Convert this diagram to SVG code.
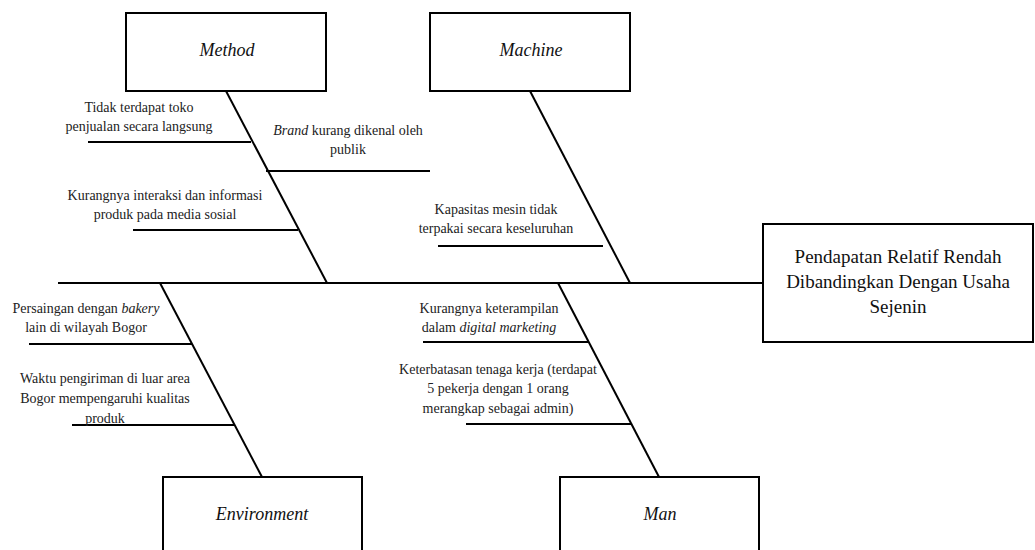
<svg xmlns="http://www.w3.org/2000/svg" width="1035" height="550" viewBox="0 0 1035 550">
<style>
.box{fill:#fff;stroke:#000;stroke-width:2}
.ln{stroke:#000;stroke-width:2;fill:none}
.t{font-family:"Liberation Serif","Times New Roman",serif;font-size:14px;fill:#222;text-anchor:middle}
.h{font-family:"Liberation Serif","Times New Roman",serif;font-size:18px;font-style:italic;fill:#111;text-anchor:middle}
.e{font-family:"Liberation Serif","Times New Roman",serif;font-size:19px;fill:#111;text-anchor:middle}
.i{font-style:italic}
</style>
<rect width="1035" height="550" fill="#fff"/>
<g id="connectors">
<line class="ln" x1="58" y1="283" x2="763" y2="283"/>
<line class="ln" x1="226" y1="91" x2="327" y2="283"/>
<line class="ln" x1="530" y1="91" x2="630" y2="283"/>
<line class="ln" x1="160" y1="283" x2="262" y2="477"/>
<line class="ln" x1="558" y1="283" x2="659" y2="477"/>
<line class="ln" x1="88" y1="142" x2="251" y2="142"/>
<line class="ln" x1="266" y1="171" x2="430" y2="171"/>
<line class="ln" x1="133" y1="230" x2="298" y2="230"/>
<line class="ln" x1="438" y1="246" x2="603" y2="246"/>
<line class="ln" x1="29" y1="344" x2="192" y2="344"/>
<line class="ln" x1="72" y1="425" x2="234" y2="425"/>
<line class="ln" x1="423" y1="342" x2="588" y2="342"/>
<line class="ln" x1="466" y1="424" x2="631" y2="424"/>
</g>
<g id="method">
<rect class="box" x="126" y="13" width="200" height="78"/>
<text class="h" x="227" y="56">Method</text>
</g>
<g id="machine">
<rect class="box" x="430" y="13" width="200" height="78"/>
<text class="h" x="531" y="56">Machine</text>
</g>
<g id="environment">
<rect class="box" x="163" y="477" width="199" height="80"/>
<text class="h" x="262" y="520">Environment</text>
</g>
<g id="man">
<rect class="box" x="560" y="477" width="199" height="80"/>
<text class="h" x="660" y="520">Man</text>
</g>
<g id="effect">
<rect class="box" x="763" y="224" width="270" height="118"/>
<text class="e" x="898" y="263">Pendapatan Relatif Rendah</text>
<text class="e" x="898" y="288">Dibandingkan Dengan Usaha</text>
<text class="e" x="898" y="313">Sejenin</text>
</g>
<g id="cause-toko">
<text class="t" x="139" y="112">Tidak terdapat toko</text>
<text class="t" x="139" y="131">penjualan secara langsung</text>
</g>
<g id="cause-brand">
<text class="t" x="348" y="135"><tspan class="i">Brand</tspan> kurang dikenal oleh</text>
<text class="t" x="348" y="154">publik</text>
</g>
<g id="cause-interaksi">
<text class="t" x="165" y="200">Kurangnya interaksi dan informasi</text>
<text class="t" x="165" y="219">produk pada media sosial</text>
</g>
<g id="cause-mesin">
<text class="t" x="496" y="214">Kapasitas mesin tidak</text>
<text class="t" x="496" y="233">terpakai secara keseluruhan</text>
</g>
<g id="cause-persaingan">
<text class="t" x="86" y="313">Persaingan dengan <tspan class="i">bakery</tspan></text>
<text class="t" x="86" y="332">lain di wilayah Bogor</text>
</g>
<g id="cause-waktu">
<text class="t" x="105" y="383">Waktu pengiriman di luar area</text>
<text class="t" x="105" y="403">Bogor mempengaruhi kualitas</text>
<text class="t" x="105" y="423">produk</text>
</g>
<g id="cause-keterampilan">
<text class="t" x="489" y="313">Kurangnya keterampilan</text>
<text class="t" x="489" y="332">dalam <tspan class="i">digital marketing</tspan></text>
</g>
<g id="cause-tenaga">
<text class="t" x="498" y="374">Keterbatasan tenaga kerja (terdapat</text>
<text class="t" x="498" y="393">5 pekerja dengan 1 orang</text>
<text class="t" x="498" y="413">merangkap sebagai admin)</text>
</g>
</svg>
